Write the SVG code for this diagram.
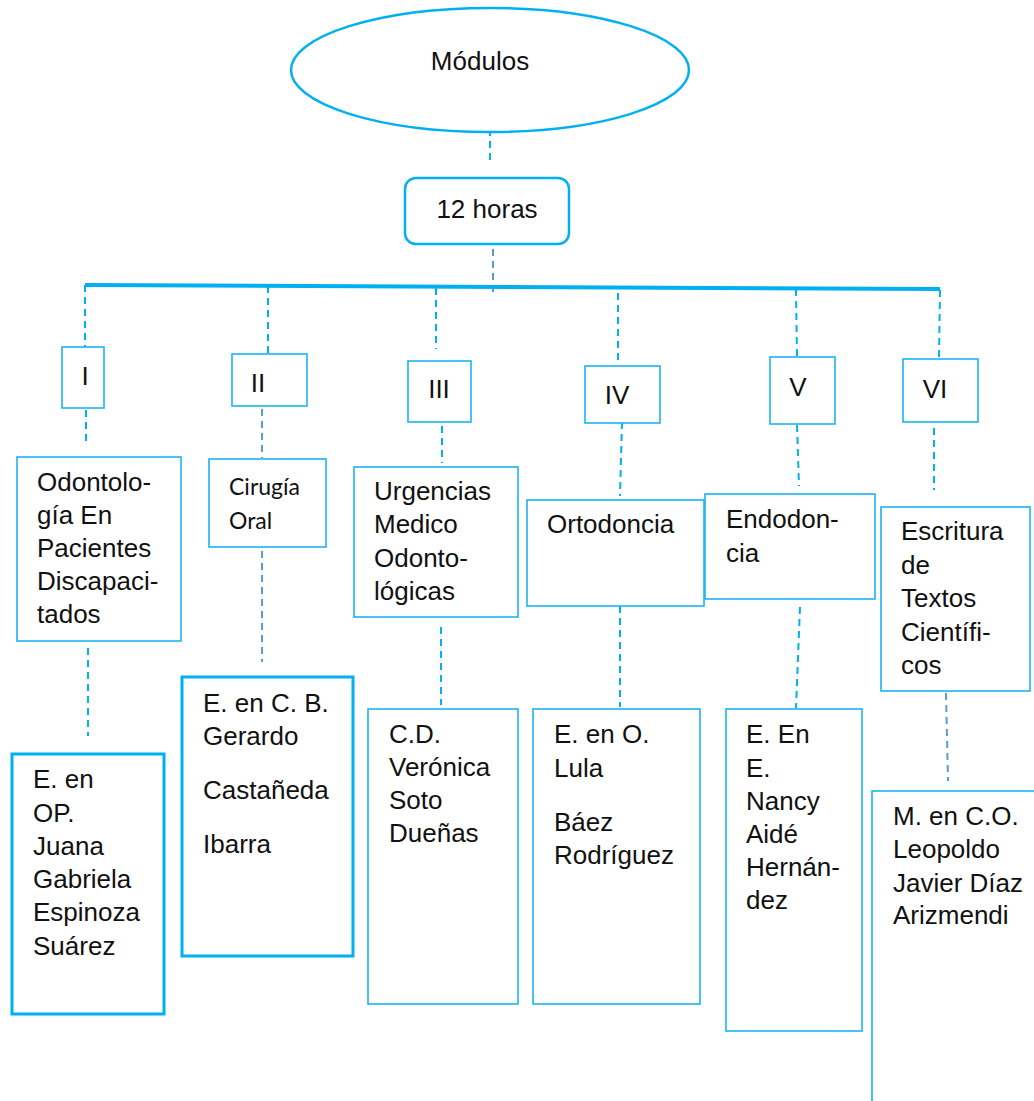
<svg xmlns="http://www.w3.org/2000/svg" width="1034" height="1101" viewBox="0 0 1034 1101">
<style>
text{font-family:"Liberation Sans",Arial,sans-serif;font-size:26px;fill:#111}
.c{text-anchor:middle}
.cal{font-family:Lato,"Noto Sans",sans-serif;font-size:23px}
.box{fill:#fff;stroke:#1bb4ef;stroke-width:1.6}
.thick{fill:#fff;stroke:#00b0f0;stroke-width:3}
.d{stroke:#00b0f0;stroke-width:2;stroke-dasharray:7 5;fill:none}
.d2{stroke:#5b9bd5;stroke-width:2;stroke-dasharray:7 5;fill:none}
</style>
<rect width="1034" height="1101" fill="#fff"/>
<g id="connectors">
<line class="d" x1="490" y1="117" x2="490" y2="165"/>
<line class="d2" x1="493" y1="237" x2="493" y2="293"/>
<line x1="85" y1="285" x2="940" y2="289" stroke="#00b0f0" stroke-width="4"/>
<line class="d" x1="85" y1="285" x2="85" y2="347"/>
<line class="d" x1="86" y1="410" x2="86" y2="444"/>
<line class="d" x1="88" y1="648" x2="88" y2="736"/>
<line class="d" x1="268" y1="286" x2="268" y2="353"/>
<line class="d2" x1="262" y1="409" x2="262" y2="458"/>
<line class="d2" x1="262" y1="551" x2="262" y2="662"/>
<line class="d" x1="436" y1="288" x2="436" y2="349"/>
<line class="d" x1="442" y1="414" x2="442" y2="463"/>
<line class="d" x1="441" y1="627" x2="441" y2="705"/>
<line class="d" x1="618" y1="293" x2="618" y2="365"/>
<line class="d" x1="622" y1="422" x2="620" y2="496"/>
<line class="d" x1="620" y1="606" x2="620" y2="707"/>
<line class="d" x1="796" y1="289" x2="797" y2="357"/>
<line class="d" x1="797" y1="425" x2="799" y2="486"/>
<line class="d" x1="800" y1="607" x2="796" y2="708"/>
<line class="d" x1="940" y1="290" x2="939" y2="358"/>
<line class="d" x1="934" y1="428" x2="934" y2="490"/>
<line class="d2" x1="946" y1="693" x2="948" y2="781"/>
</g>
<g id="modulos">
<ellipse cx="490" cy="70" rx="199" ry="62" fill="#fff" stroke="#00b0f0" stroke-width="2.5"/>
<text class="c" x="480" y="70">Módulos</text>
</g>
<g id="horas">
<rect x="405" y="178" width="164" height="66" rx="11" fill="#fff" stroke="#00b0f0" stroke-width="2.5"/>
<text class="c" x="487" y="218">12 horas</text>
</g>
<g id="m1">
<rect class="box" x="62" y="347" width="42" height="61"/>
<text class="c" x="85" y="385">I</text>
</g>
<g id="m2">
<rect class="box" x="232" y="354" width="75" height="52"/>
<text class="c" x="258" y="392">II</text>
</g>
<g id="m3">
<rect class="box" x="408" y="361" width="63" height="61"/>
<text class="c" x="439" y="398">III</text>
</g>
<g id="m4">
<rect class="box" x="585" y="366" width="75" height="57"/>
<text class="c" x="617" y="404">IV</text>
</g>
<g id="m5">
<rect class="box" x="770" y="357" width="65" height="67"/>
<text class="c" x="798" y="396">V</text>
</g>
<g id="m6">
<rect class="box" x="903" y="359" width="75" height="63"/>
<text class="c" x="935" y="398">VI</text>
</g>
<g id="t1">
<rect class="box" x="17" y="457" width="164" height="184"/>
<text x="37" y="491">Odontolo-</text>
<text x="37" y="524">gía En</text>
<text x="37" y="557">Pacientes</text>
<text x="37" y="590">Discapaci-</text>
<text x="37" y="623">tados</text>
</g>
<g id="t2">
<rect class="box" x="209" y="459" width="117" height="88"/>
<text class="cal" x="229" y="495">Cirugía</text>
<text class="cal" x="229" y="529">Oral</text>
</g>
<g id="t3">
<rect class="box" x="354" y="467" width="164" height="150"/>
<text x="374" y="500">Urgencias</text>
<text x="374" y="533">Medico</text>
<text x="374" y="567">Odonto-</text>
<text x="374" y="600">lógicas</text>
</g>
<g id="t4">
<rect class="box" x="527" y="500" width="177" height="106"/>
<text x="547" y="533">Ortodoncia</text>
</g>
<g id="t5">
<rect class="box" x="705" y="494" width="170" height="105"/>
<text x="726" y="528">Endodon-</text>
<text x="726" y="562">cia</text>
</g>
<g id="t6">
<rect class="box" x="881" y="507" width="149" height="184"/>
<text x="901" y="540">Escritura</text>
<text x="901" y="574">de</text>
<text x="901" y="607">Textos</text>
<text x="901" y="641">Científi-</text>
<text x="901" y="674">cos</text>
</g>
<g id="p1">
<rect class="thick" x="12" y="754" width="152" height="260"/>
<text x="33" y="788">E. en</text>
<text x="33" y="822">OP.</text>
<text x="33" y="855">Juana</text>
<text x="33" y="888">Gabriela</text>
<text x="33" y="921">Espinoza</text>
<text x="33" y="955">Suárez</text>
</g>
<g id="p2">
<rect class="thick" x="182" y="677" width="171" height="279"/>
<text x="203" y="712">E. en C. B.</text>
<text x="203" y="745">Gerardo</text>
<text x="203" y="799">Castañeda</text>
<text x="203" y="853">Ibarra</text>
</g>
<g id="p3">
<rect class="box" x="368" y="709" width="150" height="295"/>
<text x="389" y="743">C.D.</text>
<text x="389" y="776">Verónica</text>
<text x="389" y="809">Soto</text>
<text x="389" y="842">Dueñas</text>
</g>
<g id="p4">
<rect class="box" x="533" y="709" width="167" height="295"/>
<text x="554" y="743">E. en O.</text>
<text x="554" y="777">Lula</text>
<text x="554" y="831">Báez</text>
<text x="554" y="864">Rodríguez</text>
</g>
<g id="p5">
<rect class="box" x="726" y="709" width="136" height="322"/>
<text x="746" y="743">E. En</text>
<text x="746" y="777">E.</text>
<text x="746" y="810">Nancy</text>
<text x="746" y="843">Aidé</text>
<text x="746" y="876">Hernán-</text>
<text x="746" y="909">dez</text>
</g>
<g id="p6">
<rect class="box" x="872" y="791" width="200" height="400"/>
<text x="893" y="825">M. en C.O.</text>
<text x="893" y="858">Leopoldo</text>
<text x="893" y="892">Javier Díaz</text>
<text x="893" y="924">Arizmendi</text>
</g>
</svg>
